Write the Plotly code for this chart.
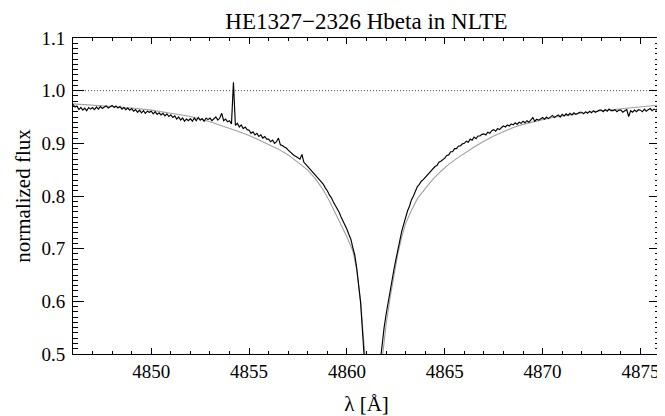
import numpy as np
import plotly.graph_objects as go

# ---------------- data ----------------
title_text = "HE1327\u22122326 Hbeta in NLTE"

# observed spectrum, sampled every 0.1 A from 4846.0 to 4876.0
obs_wave = np.round(np.linspace(4846.0, 4876.0, 301), 2)
obs_flux = [
    0.974, 0.969, 0.971, 0.964, 0.968, 0.963, 0.967, 0.962, 0.968, 0.965,  # 4846
    0.968, 0.964, 0.969, 0.965, 0.970, 0.966, 0.969, 0.971, 0.967, 0.970,  # 4847
    0.972, 0.968, 0.971, 0.967, 0.970, 0.965, 0.968, 0.964, 0.967, 0.963,  # 4848
    0.966, 0.961, 0.964, 0.959, 0.963, 0.958, 0.962, 0.957, 0.961, 0.959,  # 4849
    0.961, 0.956, 0.960, 0.955, 0.958, 0.954, 0.957, 0.952, 0.956, 0.951,  # 4850
    0.954, 0.949, 0.952, 0.946, 0.950, 0.944, 0.948, 0.942, 0.946, 0.943,  # 4851
    0.947, 0.942, 0.948, 0.943, 0.949, 0.944, 0.947, 0.942, 0.948, 0.945,  # 4852
    0.948, 0.943, 0.947, 0.950, 0.944, 0.948, 0.957, 0.943, 0.946, 0.941,  # 4853
    0.943, 0.937, 1.016, 0.934, 0.938, 0.931, 0.935, 0.928, 0.931, 0.926,  # 4854
    0.925, 0.919, 0.922, 0.916, 0.919, 0.913, 0.916, 0.910, 0.913, 0.908,  # 4855
    0.908, 0.903, 0.906, 0.900, 0.903, 0.910, 0.897, 0.896, 0.893, 0.891,  # 4856
    0.887, 0.883, 0.881, 0.877, 0.875, 0.872, 0.870, 0.879, 0.864, 0.860,  # 4857
    0.856, 0.851, 0.848, 0.843, 0.840, 0.834, 0.832, 0.827, 0.822, 0.815,  # 4858
    0.810, 0.802, 0.797, 0.789, 0.783, 0.775, 0.769, 0.760, 0.753, 0.744,  # 4859
    0.737, 0.727, 0.718, 0.702, 0.688, 0.663, 0.634, 0.597, 0.540, 0.470,  # 4860
    0.430, 0.405, 0.395, 0.395, 0.405, 0.425, 0.450, 0.485, 0.520, 0.550,  # 4861
    0.575, 0.598, 0.621, 0.640, 0.660, 0.679, 0.698, 0.715, 0.733, 0.746,  # 4862
    0.760, 0.772, 0.781, 0.793, 0.800, 0.810, 0.818, 0.822, 0.828, 0.831,  # 4863
    0.835, 0.840, 0.843, 0.849, 0.851, 0.856, 0.858, 0.864, 0.866, 0.869,  # 4864
    0.872, 0.877, 0.878, 0.884, 0.884, 0.890, 0.890, 0.895, 0.895, 0.899,  # 4865
    0.900, 0.904, 0.902, 0.908, 0.906, 0.912, 0.909, 0.914, 0.914, 0.917,  # 4866
    0.918, 0.916, 0.921, 0.919, 0.924, 0.926, 0.923, 0.928, 0.926, 0.930,  # 4867
    0.933, 0.931, 0.935, 0.933, 0.937, 0.935, 0.939, 0.936, 0.940, 0.938,  # 4868
    0.942, 0.939, 0.943, 0.940, 0.944, 0.949, 0.942, 0.946, 0.944, 0.947,  # 4869
    0.949, 0.946, 0.950, 0.947, 0.951, 0.953, 0.949, 0.952, 0.954, 0.950,  # 4870
    0.955, 0.952, 0.956, 0.953, 0.957, 0.954, 0.958, 0.955, 0.957, 0.959,  # 4871
    0.959, 0.956, 0.960, 0.957, 0.961, 0.958, 0.962, 0.959, 0.961, 0.963,  # 4872
    0.963, 0.960, 0.964, 0.961, 0.965, 0.962, 0.962, 0.964, 0.960, 0.963,  # 4873
    0.963, 0.959, 0.962, 0.964, 0.951, 0.962, 0.959, 0.963, 0.960, 0.964,  # 4874
    0.963, 0.960, 0.965, 0.961, 0.964, 0.966, 0.962, 0.965, 0.963, 0.967,  # 4875
    0.966,                                                                 # 4876
]

# NLTE model profile (grey curve)
model_wave = [
    4846.0, 4847.0, 4848.0, 4849.0, 4850.0, 4851.0, 4852.0, 4853.0, 4853.5,
    4854.0, 4854.5, 4855.0, 4855.5, 4856.0, 4856.5, 4857.0, 4857.5, 4858.0,
    4858.4, 4858.8, 4859.1, 4859.4, 4859.7, 4860.0, 4860.3, 4860.5, 4860.7,
    4860.8, 4860.9, 4861.0, 4861.35, 4861.75, 4861.83, 4862.0, 4862.2, 4862.4,
    4862.6, 4862.8, 4863.0, 4863.3, 4863.6, 4864.0, 4864.4, 4864.8, 4865.2,
    4865.6, 4866.0, 4866.5, 4867.0, 4867.5, 4868.0, 4868.5, 4869.0, 4869.5,
    4870.0, 4870.5, 4871.0, 4871.5, 4872.0, 4872.5, 4873.0, 4873.5, 4874.0,
    4874.5, 4875.0, 4875.5, 4876.0,
]
model_flux = [
    0.975, 0.973, 0.970, 0.967, 0.963, 0.957, 0.951, 0.941, 0.935,
    0.929, 0.922, 0.915, 0.906, 0.898, 0.889, 0.878, 0.864, 0.849,
    0.832, 0.811, 0.791, 0.769, 0.745, 0.722, 0.696, 0.660, 0.600,
    0.560, 0.505, 0.460, 0.400, 0.470, 0.500, 0.555, 0.605, 0.650,
    0.690, 0.722, 0.748, 0.773, 0.795, 0.814, 0.832, 0.847, 0.860,
    0.871, 0.881, 0.893, 0.904, 0.914, 0.922, 0.930, 0.936, 0.941,
    0.945, 0.949, 0.952, 0.955, 0.958, 0.960, 0.962, 0.964, 0.966,
    0.968, 0.970, 0.971, 0.973,
]

continuum_level = 1.0
x_range = [4846.0, 4876.0]
y_range = [0.5, 1.1]
x_tickvals = [4850, 4855, 4860, 4865, 4870, 4875]
y_tickvals = [0.5, 0.6, 0.7, 0.8, 0.9, 1.0, 1.1]

# ---------------- figure ----------------
FONT = "Times New Roman, Liberation Serif, Times, DejaVu Serif, serif"

fig = go.Figure()
fig.add_trace(go.Scatter(
    x=model_wave, y=model_flux, mode="lines",
    line=dict(color="#a0a0a0", width=1.1), showlegend=False,
))
fig.add_trace(go.Scatter(
    x=obs_wave, y=obs_flux, mode="lines",
    line=dict(color="black", width=1.15), showlegend=False,
))
fig.add_trace(go.Scatter(
    x=x_range, y=[continuum_level, continuum_level], mode="lines",
    line=dict(color="#444444", width=1, dash="1px,2px"), showlegend=False,
))

# the html page body has an 8px default margin, so the figure is 8px smaller
fig.update_layout(
    width=657, height=408,
    margin=dict(l=65, r=5, t=30, b=62, autoexpand=False),
    paper_bgcolor="white", plot_bgcolor="white",
    font=dict(family=FONT, color="black", size=19),
    title=dict(text=title_text, x=0.5, xref="paper", xanchor="center",
               y=0.968, yref="container", yanchor="middle",
               font=dict(family=FONT, size=23, color="black")),
)
fig.update_xaxes(
    range=x_range, tickvals=x_tickvals, ticktext=[str(v) for v in x_tickvals],
    ticks="inside", ticklen=6, tickwidth=1, tickcolor="black",
    minor=dict(dtick=1, ticks="inside", ticklen=3, tickcolor="black", tickwidth=1),
    showline=True, linecolor="black", linewidth=1, mirror="allticks",
    showgrid=False, zeroline=False, automargin=False,
    tickfont=dict(family=FONT, size=19),
    ticklabelstandoff=0,
    title=dict(text="\u03bb [\u00c5]", font=dict(family=FONT, size=21), standoff=17),
)
fig.update_yaxes(
    range=y_range, tickvals=y_tickvals, ticktext=[f"{v:.1f}" for v in y_tickvals],
    ticks="inside", ticklen=11, tickwidth=1, tickcolor="black",
    minor=dict(dtick=0.01, ticks="inside", ticklen=5, tickcolor="black", tickwidth=1),
    showline=True, linecolor="black", linewidth=1, mirror="allticks",
    showgrid=False, zeroline=False, automargin=False,
    tickfont=dict(family=FONT, size=19),
    ticklabelstandoff=3,
    title=dict(text="normalized flux", font=dict(family=FONT, size=21), standoff=5),
)

fig.write_html("out.html")
